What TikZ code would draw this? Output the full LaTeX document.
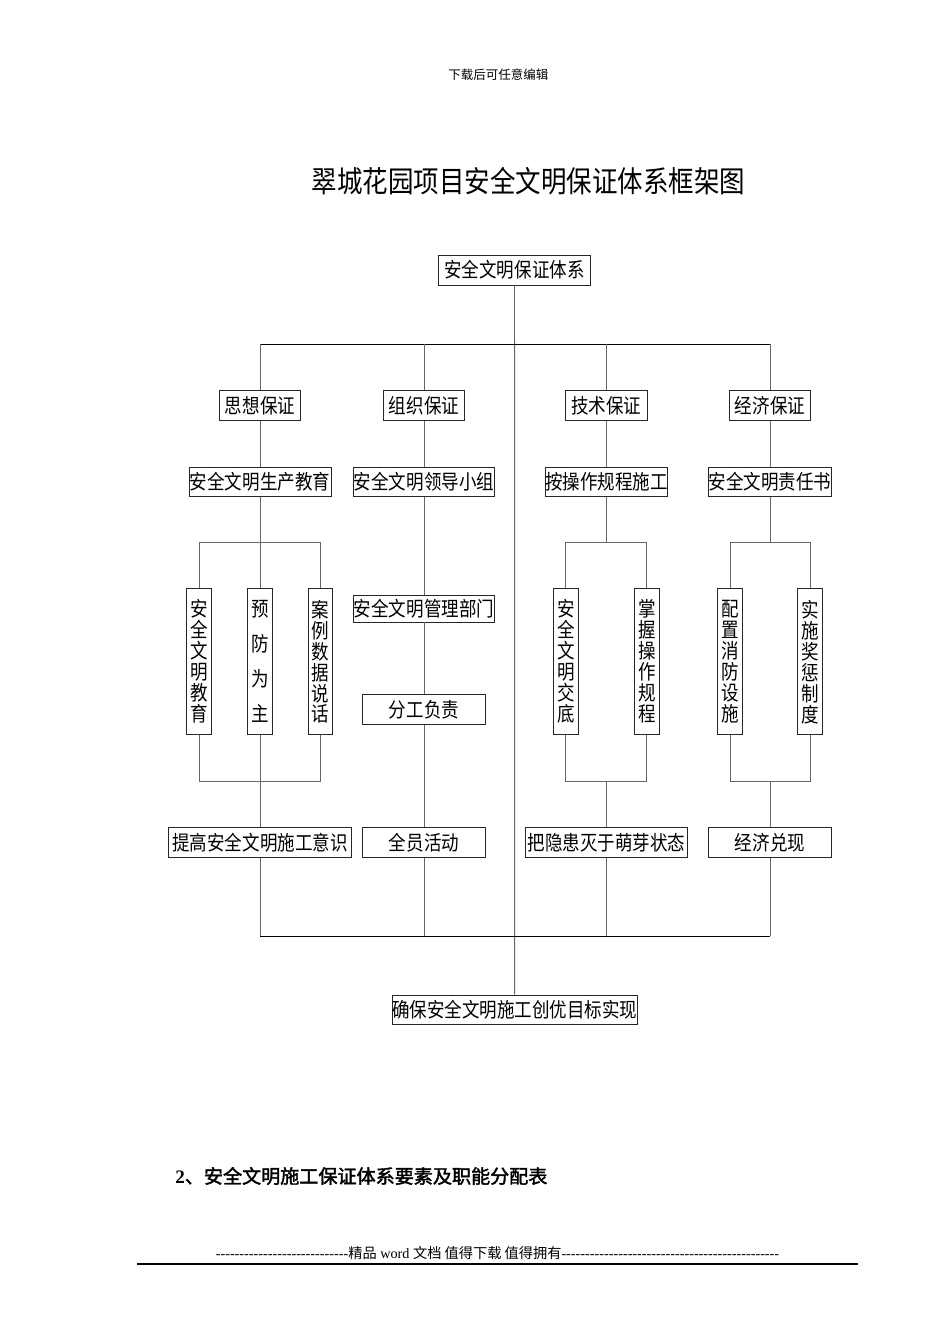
\documentclass[tikz,border=0pt]{standalone}
\usepackage{fontspec}
\newfontfamily\cjk{Noto Sans CJK SC}
\newfontfamily\cjkn[FakeStretch=0.86]{Noto Sans CJK SC}
\newfontfamily\cjkb[FakeBold=2]{Noto Sans CJK SC}
\newfontfamily\lser{Liberation Serif}
\def\pu{0.6263pt}
\tikzset{
  box/.style={draw=black!85, line width=0.6pt, inner sep=0pt, fill=white,
    font=\cjkn\fontsize{12.75pt}{15pt}\selectfont},
  hbox/.style={box, minimum height=30*\pu},
  vbox/.style={box, align=center, minimum width=24.5*\pu, minimum height=146*\pu,
    font=\cjkn\fontsize{12.75pt}{13.15pt}\selectfont},
  conn/.style={draw=black!60, line width=0.6pt},
  bar/.style={draw=black, line width=0.6pt},
}
\begin{document}
\begin{tikzpicture}[x=\pu, y=-\pu]
\useasboundingbox[fill=white] (0,0) rectangle (950,1344);

% header, title
\node (hdr) at (498.3,74.7) {\cjk\fontsize{7.83pt}{9pt}\selectfont 下载后可任意编辑};
\node (title) at (528.3,181) {\cjkn\fontsize{18.57pt}{21pt}\selectfont 翠城花园项目安全文明保证体系框架图};

% top and goal
\node[hbox, minimum width=152.4*\pu] (top) at (514.5,270) {安全文明保证体系};
\node[hbox, minimum width=242.7*\pu, minimum height=29.3*\pu] (goal) at (514.7,1009.7) {确保安全文明施工创优目标实现};

% level 2
\node[hbox, minimum width=81.4*\pu] (b1) at (260,405.7) {思想保证};
\node[hbox, minimum width=81.4*\pu] (b2) at (424,405.7) {组织保证};
\node[hbox, minimum width=81.4*\pu] (b3) at (606.3,405.7) {技术保证};
\node[hbox, minimum width=81.4*\pu] (b4) at (770,405.7) {经济保证};

% level 3
\node[hbox, minimum width=142*\pu, minimum height=29*\pu] (c1) at (260,481.7) {安全文明生产教育};
\node[hbox, minimum width=141.6*\pu, minimum height=29*\pu] (c2) at (424,481.7) {安全文明领导小组};
\node[hbox, minimum width=121.3*\pu, minimum height=29*\pu] (c3) at (606.3,481.7) {按操作规程施工};
\node[hbox, minimum width=121.7*\pu, minimum height=29*\pu] (c4) at (770,481.7) {安全文明责任书};

% vertical boxes
\node[vbox] (v11) at (199,661.7) {安\\全\\文\\明\\教\\育};
\node[vbox, font=\cjkn\fontsize{12.75pt}{21.9pt}\selectfont] (v12) at (260,661.7) {预\\防\\为\\主};
\node[vbox] (v13) at (320.7,661.7) {案\\例\\数\\据\\说\\话};
\node[vbox] (v31) at (565.8,661.7) {安\\全\\文\\明\\交\\底};
\node[vbox] (v32) at (646.8,661.7) {掌\\握\\操\\作\\规\\程};
\node[vbox] (v41) at (730,661.7) {配\\置\\消\\防\\设\\施};
\node[vbox] (v42) at (810,661.7) {实\\施\\奖\\惩\\制\\度};

% column 2 middle
\node[hbox, minimum width=140*\pu, minimum height=27*\pu] (m1) at (424,608.5) {安全文明管理部门};
\node[hbox, minimum width=122.3*\pu] (m2) at (424,709.3) {分工负责};

% level 5
\node[hbox, minimum width=183*\pu] (e1) at (260,842.7) {提高安全文明施工意识};
\node[hbox, minimum width=122.3*\pu] (e2) at (424,842.7) {全员活动};
\node[hbox, minimum width=162*\pu] (e3) at (606.3,842.7) {把隐患灭于萌芽状态};
\node[hbox, minimum width=122.7*\pu] (e4) at (770,842.7) {经济兑现};

% coordinates
\coordinate (barL) at (260,344.3);
\coordinate (barR) at (770,344.3);
\coordinate (botL) at (260,936);
\coordinate (botR) at (770,936);
\coordinate (brT1) at (260,542.3);
\coordinate (brB1) at (260,781);
\coordinate (brT3) at (606.3,542.3);
\coordinate (brB3) at (606.3,781);
\coordinate (brT4) at (770,542.3);
\coordinate (brB4) at (770,781);

% connectors
\draw[conn] (top.south) -- (goal.north);
\draw[bar] (barL) -- (barR);
\draw[bar] (botL) -- (botR);
\foreach \n in {b1,b2,b3,b4} {\draw[conn] (\n.north) -- (\n.north |- barL);}
\draw[conn] (b1) -- (c1);
\draw[conn] (b2) -- (c2);
\draw[conn] (b3) -- (c3);
\draw[conn] (b4) -- (c4);
% column 1
\draw[conn] (c1.south) -- (v12.north);
\draw[conn] (v11.north) |- (brT1) -| (v13.north);
\draw[conn] (v11.south) |- (brB1) -| (v13.south);
\draw[conn] (v12.south) -- (e1.north);
% column 2
\draw[conn] (c2) -- (m1);
\draw[conn] (m1) -- (m2);
\draw[conn] (m2) -- (e2);
% column 3
\draw[conn] (c3.south) -- (brT3);
\draw[conn] (v31.north) |- (brT3) -| (v32.north);
\draw[conn] (v31.south) |- (brB3) -| (v32.south);
\draw[conn] (brB3) -- (e3.north);
% column 4
\draw[conn] (c4.south) -- (brT4);
\draw[conn] (v41.north) |- (brT4) -| (v42.north);
\draw[conn] (v41.south) |- (brB4) -| (v42.south);
\draw[conn] (brB4) -- (e4.north);
% bottom
\foreach \n in {e1,e2,e3,e4} {\draw[conn] (\n.south) -- (\n.south |- botL);}

% heading below
\node[anchor=west, inner sep=0pt] (h2) at (175,1176)
  {\fontsize{11.95pt}{14pt}\selectfont{\lser\bfseries 2}{\cjkb 、安全文明施工保证体系要素及职能分配表}};

% footer
\node (foot) at (497.5,1253) {\fontsize{8.9pt}{10pt}\selectfont
  {\lser ----------------------------}{\cjk 精品}{\lser\ word }{\cjk 文档 值得下载 值得拥有}{\lser ----------------------------------------------}};
\coordinate (fl) at (137,1264);
\coordinate (fr) at (858,1264);
\draw[line width=1pt] (fl) -- (fr);
\end{tikzpicture}
\end{document}
